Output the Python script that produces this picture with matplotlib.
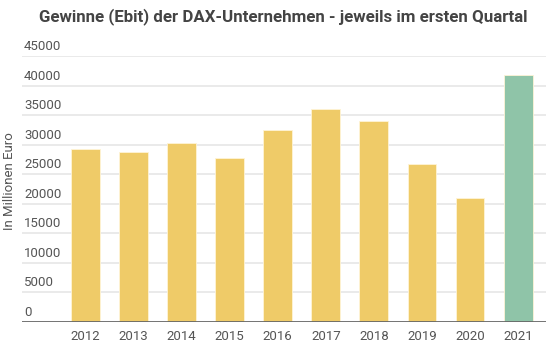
import numpy as np
import matplotlib
matplotlib.use('Agg')
import matplotlib.pyplot as plt
import matplotlib.transforms as mtransforms

plt.rcParams['font.family'] = ['Roboto', 'DejaVu Sans']

years = ['2012', '2013', '2014', '2015', '2016', '2017', '2018', '2019', '2020', '2021']
ebit = [29200, 28700, 30300, 27750, 32500, 36000, 34000, 26800, 20900, 41800]
bar_colors = ['#EFCB68'] * 9 + ['#8FC4A8']
yticks = [0, 5000, 10000, 15000, 20000, 25000, 30000, 35000, 40000, 45000]

fig = plt.figure(figsize=(5.6, 3.51), dpi=100)
ax = fig.add_axes([22 / 560, 29 / 351, 524 / 560, 266 / 351])

x = np.arange(len(years))
ax.bar(x, ebit, width=0.6, color=bar_colors, edgecolor='#FFF4D6', linewidth=0.6, zorder=3)

ax.set_xlim(-1.32, 9.58)
ax.set_ylim(0, 45000)

# grid lines
for v in yticks[1:]:
    ax.axhline(v, color='#E6E6E6', linewidth=1.2, zorder=1)
ax.axhline(0, color='#666666', linewidth=2, zorder=4)

# y tick labels sit above the grid lines, left aligned
offset = mtransforms.ScaledTranslation(2 / 100, 3 / 100, fig.dpi_scale_trans)
trans = mtransforms.blended_transform_factory(ax.transAxes, ax.transData) + offset
for v in yticks:
    ax.text(0, v, str(v), transform=trans, ha='left', va='bottom',
            fontsize=9.5, color='#555555')

ax.set_yticks([])
ax.set_xticks(x)
ax.set_xticklabels(years, fontsize=9.5, color='#555555')
ax.tick_params(axis='x', length=0, pad=6)
for s in ax.spines.values():
    s.set_visible(False)

fig.text(10 / 560, 1 - 181 / 351, 'In Millionen Euro', rotation=90, ha='center', va='center',
         fontsize=9.5, color='#555555')
fig.text(283 / 560, 1 - 17 / 351, 'Gewinne (Ebit) der DAX-Unternehmen - jeweils im ersten Quartal',
         ha='center', va='center', fontsize=12.2, fontweight='bold', color='#444444')

fig.savefig('out.png', dpi=100)
